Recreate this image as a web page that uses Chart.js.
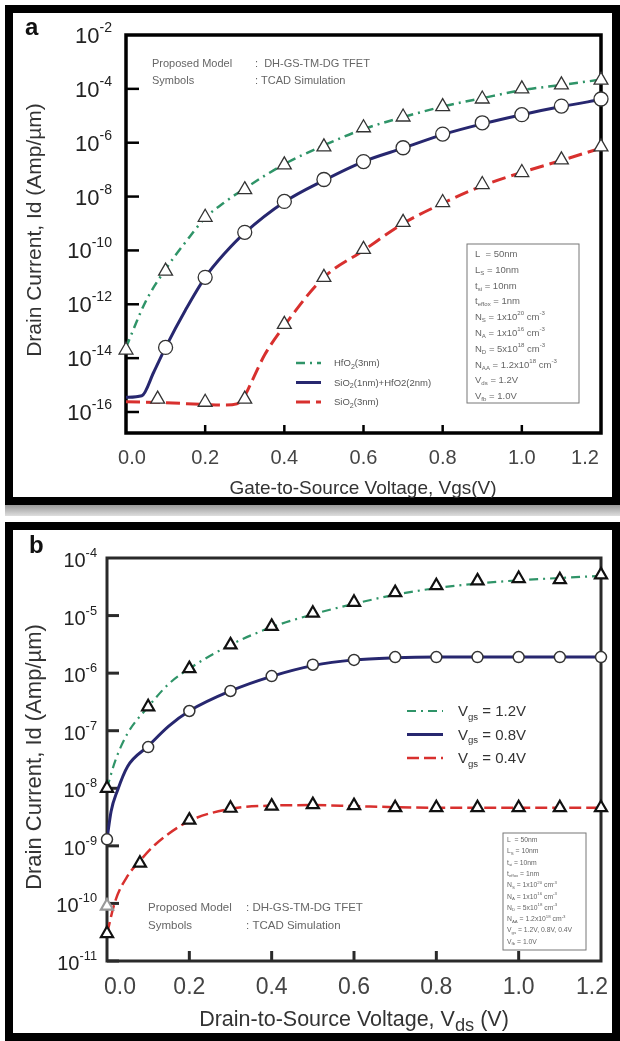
<!DOCTYPE html>
<html>
<head>
<meta charset="utf-8">
<script src="https://cdn.jsdelivr.net/npm/chart.js@4.4.0/dist/chart.umd.min.js"></script>
<style>
  body { margin: 0; background: #fff; width: 620px; height: 1041px; overflow: hidden; position: relative; }
  .frame { position: absolute; border: 8px solid #000; box-sizing: border-box; }
  #fa { left: 5px; top: 5px; width: 615px; height: 500px; }
  #fb { left: 5px; top: 522px; width: 615px; height: 519px; }
  #shadow { position: absolute; left: 5px; top: 505px; width: 615px; height: 11px; background: linear-gradient(#9a9a9a, #dedede); }
  canvas { position: absolute; left: 0; }
  #ca { top: 0; }
  #cb { top: 520px; }
</style>
</head>
<body>
<div id="shadow"></div>
<div class="frame" id="fa"></div>
<div class="frame" id="fb"></div>
<canvas id="ca" width="620" height="520"></canvas>
<canvas id="cb" width="620" height="521"></canvas>
<script>
// ---------- panel a : Id vs Vgs ----------
var aXTicks = [0, 0.2, 0.4, 0.6, 0.8, 1.0, 1.2];
var aYExp = [-2, -4, -6, -8, -10, -12, -14, -16];

// TCAD symbols
var aVgs = [0.0, 0.1, 0.2, 0.3, 0.4, 0.5, 0.6, 0.7, 0.8, 0.9, 1.0, 1.1, 1.2];
var hfo2Tcad = [2e-14, 1.7e-11, 1.7e-9, 1.8e-8, 1.5e-7, 7e-7, 3.6e-6, 9e-6, 2.2e-5, 4.2e-5, 1e-4, 1.4e-4, 2.1e-4];
var stackVgs = [0.1, 0.2, 0.3, 0.4, 0.5, 0.6, 0.7, 0.8, 0.9, 1.0, 1.1, 1.2];
var stackTcad = [2.5e-14, 1e-11, 4.7e-10, 6.6e-9, 4.3e-8, 2e-7, 6.5e-7, 2.1e-6, 5.5e-6, 1.1e-5, 2.3e-5, 4.2e-5];
var sio2Vgs = [0.08, 0.2, 0.3, 0.4, 0.5, 0.6, 0.7, 0.8, 0.9, 1.0, 1.1, 1.2];
var sio2Tcad = [3e-16, 2.3e-16, 3e-16, 1.8e-13, 1e-11, 1.1e-10, 1.1e-9, 6e-9, 2.8e-8, 7.8e-8, 2.3e-7, 7e-7];

// model curves
var hfo2ModelX = [0, 0.05, 0.1, 0.15, 0.2, 0.25, 0.3, 0.4, 0.5, 0.6, 0.7, 0.8, 0.9, 1.0, 1.1, 1.2];
var hfo2Model = [2.5e-14, 1.3e-12, 2e-11, 2e-10, 1.6e-9, 6.3e-9, 2e-8, 1.6e-7, 8e-7, 3.2e-6, 8.9e-6, 2.2e-5, 4.5e-5, 8.9e-5, 1.4e-4, 2.2e-4];
var stackModelX = [0, 0.04, 0.07, 0.1, 0.15, 0.2, 0.25, 0.3, 0.4, 0.5, 0.6, 0.7, 0.8, 0.9, 1.0, 1.1, 1.2];
var stackModel = [3.5e-16, 4e-16, 3e-15, 2.5e-14, 6e-13, 1e-11, 8e-11, 4.5e-10, 6.3e-9, 4e-8, 2e-7, 6.3e-7, 2e-6, 5e-6, 1.1e-5, 2.2e-5, 4e-5];
var sio2ModelX = [0, 0.1, 0.2, 0.25, 0.28, 0.3, 0.32, 0.35, 0.4, 0.5, 0.6, 0.7, 0.8, 0.9, 1.0, 1.1, 1.2];
var sio2Model = [2.4e-16, 2.2e-16, 1.9e-16, 1.8e-16, 2e-16, 4e-16, 1.6e-15, 1.3e-14, 1.6e-13, 1e-11, 1e-10, 1e-9, 5.6e-9, 2.5e-8, 7.9e-8, 2.2e-7, 6.3e-7];

// ---------- panel b : Id vs Vds ----------
var bXTicks = [0, 0.2, 0.4, 0.6, 0.8, 1.0, 1.2];
var bYExp = [-4, -5, -6, -7, -8, -9, -10, -11];

var bVds = [0.0, 0.1, 0.2, 0.3, 0.4, 0.5, 0.6, 0.7, 0.8, 0.9, 1.0, 1.1, 1.2];
var vg12Tcad = [1e-8, 2.6e-7, 1.2e-6, 3.1e-6, 6.5e-6, 1.1e-5, 1.7e-5, 2.5e-5, 3.3e-5, 4.0e-5, 4.4e-5, 4.2e-5, 5.1e-5];
var vg08Tcad = [1.3e-9, 5.2e-8, 2.2e-7, 4.9e-7, 8.9e-7, 1.4e-6, 1.7e-6, 1.9e-6, 1.9e-6, 1.9e-6, 1.9e-6, 1.9e-6, 1.9e-6];
var vg04Vds = [0, 0, 0.08, 0.2, 0.3, 0.4, 0.5, 0.6, 0.7, 0.8, 0.9, 1.0, 1.1, 1.2];
var vg04Tcad = [3e-11, 9e-11, 5e-10, 2.8e-9, 4.5e-9, 4.9e-9, 5.2e-9, 5.0e-9, 4.6e-9, 4.6e-9, 4.6e-9, 4.6e-9, 4.6e-9, 4.6e-9];

var vg12ModelX = [0, 0.02, 0.05, 0.1, 0.15, 0.2, 0.3, 0.4, 0.5, 0.6, 0.7, 0.8, 0.9, 1.0, 1.1, 1.2];
var vg12Model = [1e-8, 3e-8, 9e-8, 2.6e-7, 6.5e-7, 1.2e-6, 3.1e-6, 6.3e-6, 1.05e-5, 1.6e-5, 2.3e-5, 3e-5, 3.6e-5, 4.1e-5, 4.5e-5, 4.9e-5];
var vg08ModelX = [0, 0.01, 0.025, 0.05, 0.1, 0.15, 0.2, 0.3, 0.4, 0.5, 0.6, 0.7, 0.8, 0.9, 1.0, 1.1, 1.2];
var vg08Model = [1.3e-9, 4e-9, 9e-9, 2.4e-8, 5.4e-8, 1.2e-7, 2.2e-7, 4.9e-7, 8.8e-7, 1.35e-6, 1.7e-6, 1.85e-6, 1.9e-6, 1.9e-6, 1.9e-6, 1.9e-6, 1.9e-6];
var vg04ModelX = [0, 0.02, 0.05, 0.08, 0.12, 0.2, 0.3, 0.4, 0.5, 0.6, 0.7, 0.8, 0.9, 1.0, 1.1, 1.2];
var vg04Model = [3e-11, 1.1e-10, 3e-10, 5.5e-10, 1.1e-9, 2.7e-9, 4.4e-9, 5e-9, 5.1e-9, 4.9e-9, 4.7e-9, 4.6e-9, 4.6e-9, 4.6e-9, 4.6e-9, 4.6e-9];

var GREEN = '#2f9468', BLUE = '#27276f', RED = '#d8302e';
var FONT = '"Liberation Sans", Arial, Helvetica, sans-serif';

function pts(xs, ys) {
    return xs.map(function (x, i) { return {x: x, y: ys[i]}; });
}

function modelLine(label, xs, ys, color, dash, width) {
    return {
        label: label, data: pts(xs, ys), borderColor: color, borderWidth: width,
        borderDash: dash, pointRadius: 0, cubicInterpolationMode: 'monotone',
        fill: false, order: 2, model: true
    };
}

function symbols(xs, ys, style, r, border, bw) {
    return {
        label: 'TCAD', data: pts(xs, ys), showLine: false, pointStyle: style,
        pointRadius: r, pointBackgroundColor: '#fff', pointBorderColor: border,
        pointBorderWidth: bw, clip: false, order: 1
    };
}

// text with sub / superscript parts: [text, kind, scale]
function rich(ctx, parts, x, y, size, align, color, weight) {
    var segs = parts.map(function (p) {
        var kind = p[1] || '';
        var s = kind ? size * (p[2] || 0.64) : size;
        ctx.font = (weight || 'normal') + ' ' + s + 'px ' + FONT;
        return {t: p[0], kind: kind, s: s, w: ctx.measureText(p[0]).width};
    });
    var total = segs.reduce(function (a, g) { return a + g.w; }, 0);
    var cx = align === 'center' ? x - total / 2 : align === 'right' ? x - total : x;
    ctx.textAlign = 'left';
    ctx.textBaseline = 'alphabetic';
    ctx.fillStyle = color;
    segs.forEach(function (g) {
        ctx.font = (weight || 'normal') + ' ' + g.s + 'px ' + FONT;
        var dy = g.kind === 'sup' ? -size * 0.5 : g.kind === 'sub' ? size * 0.22 : 0;
        ctx.fillText(g.t, cx, y + dy);
        cx += g.w;
    });
}

function line(ctx, x1, y1, x2, y2) {
    ctx.beginPath(); ctx.moveTo(x1, y1); ctx.lineTo(x2, y2); ctx.stroke();
}

function decor(cfg) {
    return {
        id: 'decor',
        beforeDatasetsDraw: function (chart) {
            var ctx = chart.ctx, a = chart.chartArea, x = chart.scales.x, y = chart.scales.y;
            ctx.save();
            ctx.strokeStyle = cfg.axisColor;
            ctx.lineWidth = cfg.tickWidth;
            cfg.yExp.forEach(function (e) {
                var py = y.getPixelForValue(Math.pow(10, e));
                if (py > a.top + 2 && py <= a.bottom + 0.5) line(ctx, a.left, py, a.left + cfg.yTickLen, py);
            });
            cfg.xTicks.forEach(function (v) {
                var px = x.getPixelForValue(v);
                if (px > a.left + 2 && px < a.right - 2) line(ctx, px, a.bottom, px, a.bottom - cfg.xTickLen);
            });
            ctx.lineWidth = cfg.frameWidth;
            ctx.strokeRect(a.left, a.top, a.right - a.left, a.bottom - a.top);
            ctx.restore();
        },
        afterDatasetsDraw: function (chart) {
            var ctx = chart.ctx, a = chart.chartArea, x = chart.scales.x, y = chart.scales.y;
            ctx.save();
            // y tick labels
            cfg.yExp.forEach(function (e) {
                var py = y.getPixelForValue(Math.pow(10, e));
                rich(ctx, [['10'], [String(e), 'sup']], a.left - cfg.yLabGap, py + cfg.yLabDy, cfg.yLabSize, 'right', '#222');
            });
            // x tick labels
            cfg.xTicks.forEach(function (v) {
                var px = x.getPixelForValue(v);
                px = Math.max(a.left + cfg.xLabInset[0], Math.min(a.right - cfg.xLabInset[1], px));
                rich(ctx, [[v.toFixed(1)]], px, a.bottom + cfg.xLabDy, cfg.xLabSize, 'center', '#444');
            });
            // axis titles
            rich(ctx, cfg.xTitle, cfg.xTitlePos[0], cfg.xTitlePos[1], cfg.xTitleSize, 'center', '#333');
            ctx.save();
            ctx.translate(cfg.yTitlePos[0], cfg.yTitlePos[1]);
            ctx.rotate(-Math.PI / 2);
            rich(ctx, cfg.yTitle, 0, 0, cfg.yTitleSize, 'center', '#333');
            ctx.restore();
            // panel letter
            rich(ctx, [[cfg.letter]], cfg.letterPos[0], cfg.letterPos[1], 24, 'left', '#111', 'bold');
            // notes
            cfg.notes.forEach(function (n) {
                rich(ctx, n.parts, n.x, n.y, cfg.noteSize, 'left', '#666');
            });
            // legend built from the model datasets
            var models = chart.data.datasets.filter(function (d) { return d.model; });
            models.forEach(function (d, i) {
                var ly = cfg.legend.y + i * cfg.legend.dy;
                ctx.save();
                ctx.strokeStyle = d.borderColor;
                ctx.lineWidth = d.borderWidth;
                ctx.setLineDash(d.borderDash || []);
                line(ctx, cfg.legend.x, ly, cfg.legend.x + cfg.legend.len, ly);
                ctx.restore();
                rich(ctx, cfg.legend.names[i], cfg.legend.tx, ly + cfg.legend.size * 0.36, cfg.legend.size, 'left', cfg.legend.color);
            });
            // parameter box
            var b = cfg.box;
            ctx.strokeStyle = '#777';
            ctx.lineWidth = 1;
            ctx.strokeRect(b.x, b.y, b.w, b.h);
            b.lines.forEach(function (p, i) {
                rich(ctx, p, b.x + b.pad, b.y + b.first + i * b.dy, b.size, 'left', '#666');
            });
            ctx.restore();
        }
    };
}

function params(vLine) {
    return [
        [['L  = 50nm']],
        [['L'], ['S', 'sub'], [' = 10nm']],
        [['t'], ['si', 'sub'], [' = 10nm']],
        [['t'], ['effox', 'sub'], [' = 1nm']],
        [['N'], ['S', 'sub'], [' = 1x10'], ['20', 'sup'], [' cm'], ['-3', 'sup']],
        [['N'], ['A', 'sub'], [' = 1x10'], ['16', 'sup'], [' cm'], ['-3', 'sup']],
        [['N'], ['D', 'sub'], [' = 5x10'], ['18', 'sup'], [' cm'], ['-3', 'sup']],
        [['N'], ['AA', 'sub'], [' = 1.2x10'], ['18', 'sup'], [' cm'], ['-3', 'sup']],
        vLine,
        [['V'], ['fb', 'sub'], [' = 1.0V']]
    ];
}

function makeChart(id, datasets, yMin, yMax, pad, cfg) {
    return new Chart(document.getElementById(id), {
        type: 'line',
        data: {datasets: datasets},
        options: {
            responsive: false,
            animation: false,
            events: [],
            layout: {padding: pad},
            plugins: {legend: {display: false}, tooltip: {enabled: false}},
            scales: {
                x: {type: 'linear', min: 0, max: 1.2, display: false},
                y: {type: 'logarithmic', min: yMin, max: yMax, display: false}
            }
        },
        plugins: [decor(cfg)]
    });
}

// ---------- build panel a ----------
makeChart('ca', [
    symbols(aVgs, hfo2Tcad, 'triangle', 8, '#333', 1.3),
    symbols(stackVgs, stackTcad, 'circle', 7, '#333', 1.3),
    symbols(sio2Vgs, sio2Tcad, 'triangle', 8, '#333', 1.3),
    modelLine('HfO2(3nm)', hfo2ModelX, hfo2Model, GREEN, [9, 5, 2, 5], 2.5),
    modelLine('SiO2(1nm)+HfO2(2nm)', stackModelX, stackModel, BLUE, [], 3),
    modelLine('SiO2(3nm)', sio2ModelX, sio2Model, RED, [14, 6], 3)
], 1.66e-17, 1e-2, {left: 126, top: 35, right: 19, bottom: 87}, {
    letter: 'a', letterPos: [25, 35],
    axisColor: '#000', frameWidth: 3.5, tickWidth: 2.5, yTickLen: 13, xTickLen: 8,
    yExp: aYExp, xTicks: aXTicks,
    yLabGap: 14, yLabDy: 8, yLabSize: 22,
    xLabDy: 31, xLabSize: 20, xLabInset: [6, 16],
    xTitle: [['Gate-to-Source Voltage, Vgs(V)']], xTitlePos: [363, 494], xTitleSize: 19,
    yTitle: [['Drain Current, Id (Amp/\u00b5m)']], yTitlePos: [41, 230], yTitleSize: 21,
    noteSize: 11,
    notes: [
        {parts: [['Proposed Model']], x: 152, y: 67},
        {parts: [[':  DH-GS-TM-DG TFET']], x: 255, y: 67},
        {parts: [['Symbols']], x: 152, y: 84},
        {parts: [[': TCAD Simulation']], x: 255, y: 84}
    ],
    legend: {
        x: 296, len: 25, tx: 334, y: 363, dy: 19.5, size: 9.5, color: '#555',
        names: [
            [['HfO'], ['2', 'sub', 0.75], ['(3nm)']],
            [['SiO'], ['2', 'sub', 0.75], ['(1nm)+HfO2(2nm)']],
            [['SiO'], ['2', 'sub', 0.75], ['(3nm)']]
        ]
    },
    box: {
        x: 467, y: 244, w: 112, h: 159, pad: 8, first: 13, dy: 15.8, size: 9.5,
        lines: params([['V'], ['ds', 'sub'], [' = 1.2V']])
    }
});

// ---------- build panel b ----------
makeChart('cb', [
    symbols(bVds, vg12Tcad, 'triangle', 7, '#111', 2.2),
    symbols(bVds, vg08Tcad, 'circle', 5.5, '#333', 1.5),
    Object.assign(symbols(vg04Vds, vg04Tcad, 'triangle', 7, '#111', 2.2), {
        pointBorderColor: vg04Vds.map(function (v, i) { return i === 1 ? '#999' : '#111'; })
    }),
    modelLine('Vgs = 1.2V', vg12ModelX, vg12Model, GREEN, [9, 5, 2, 5], 2.2),
    modelLine('Vgs = 0.8V', vg08ModelX, vg08Model, BLUE, [], 3),
    modelLine('Vgs = 0.4V', vg04ModelX, vg04Model, RED, [12, 5], 2.5)
], 1e-11, 1e-4, {left: 107, top: 38, right: 19, bottom: 80}, {
    letter: 'b', letterPos: [29, 33],
    axisColor: '#2a2a2a', frameWidth: 3, tickWidth: 3, yTickLen: 12, xTickLen: 10,
    yExp: bYExp, xTicks: bXTicks,
    yLabGap: 10, yLabDy: 9, yLabSize: 20,
    xLabDy: 33, xLabSize: 23, xLabInset: [13, 9],
    xTitle: [['Drain-to-Source Voltage, V'], ['ds', 'sub', 0.85], [' (V)']], xTitlePos: [354, 506], xTitleSize: 21.5,
    yTitle: [['Drain Current, Id (Amp/\u00b5m)']], yTitlePos: [41, 237], yTitleSize: 22,
    noteSize: 11.5,
    notes: [
        {parts: [['Proposed Model']], x: 148, y: 391},
        {parts: [[': DH-GS-TM-DG TFET']], x: 246, y: 391},
        {parts: [['Symbols']], x: 148, y: 409},
        {parts: [[': TCAD Simulation']], x: 246, y: 409}
    ],
    legend: {
        x: 407, len: 36, tx: 458, y: 191, dy: 23.5, size: 15, color: '#333',
        names: [
            [['V'], ['gs', 'sub'], [' = 1.2V']],
            [['V'], ['gs', 'sub'], [' = 0.8V']],
            [['V'], ['gs', 'sub'], [' = 0.4V']]
        ]
    },
    box: {
        x: 503, y: 313, w: 83, h: 117, pad: 4, first: 9, dy: 11.3, size: 6.8,
        lines: params([['V'], ['gs', 'sub'], [' = 1.2V, 0.8V, 0.4V']])
    }
});
</script>
</body>
</html>
